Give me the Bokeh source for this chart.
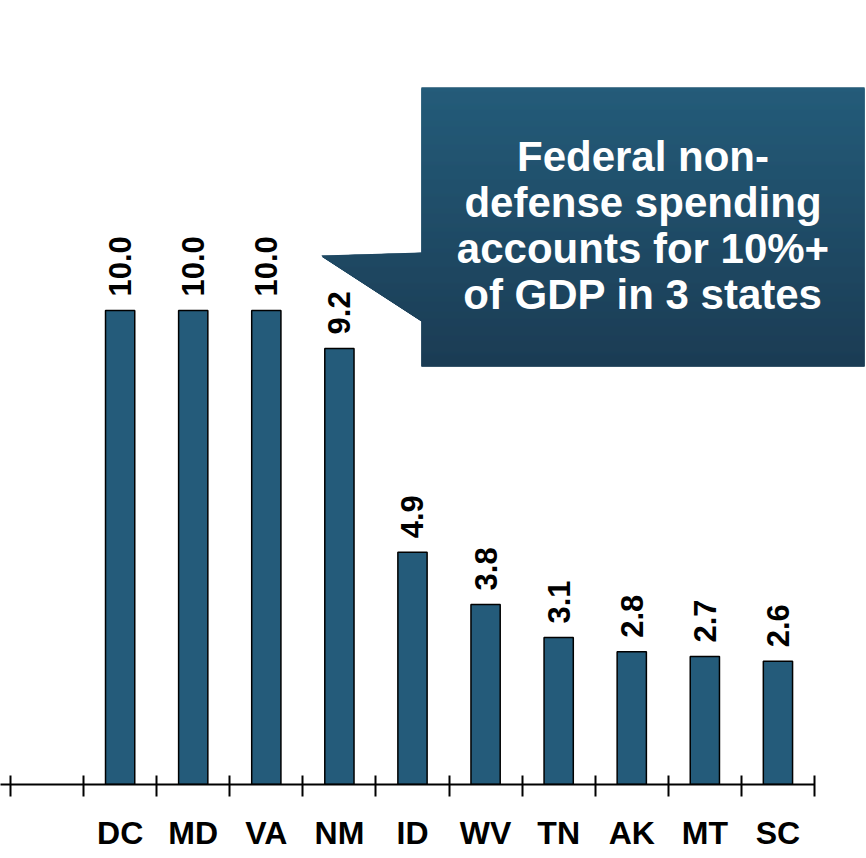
from math import pi
from bokeh.plotting import figure
from bokeh.models import Range1d, FixedTicker, ColumnDataSource, LabelSet
from bokeh.core.properties import value
from bokeh.embed import file_html
from bokeh.resources import INLINE

# ---------------- data ----------------
categories = ["DC", "MD", "VA", "NM", "ID", "WV", "TN", "AK", "MT", "SC"]
values = [10.0, 10.0, 10.0, 9.2, 4.9, 3.8, 3.1, 2.8, 2.7, 2.6]
value_labels = ["10.0", "10.0", "10.0", "9.2", "4.9", "3.8", "3.1", "2.8", "2.7", "2.6"]
callout_lines = ["Federal non-", "defense spending", "accounts for 10%+", "of GDP in 3 states"]

# ---------------- layout constants ----------------
PX_X = 73.09   # pixels per category slot
PX_Y = 47.4    # pixels per unit
W, H = 866, 858
FRAME_H = 784
FONT = value("Liberation Sans")
BAR_COLOR = "#245b7a"

n_slots = len(categories) + 1          # one empty leading slot
centers = [i + 1.5 for i in range(len(categories))]
boundaries = [float(i) for i in range(n_slots + 1)]

x0 = -10 / PX_X
p = figure(width=W, height=H,
           x_range=Range1d(x0, x0 + W / PX_X),
           y_range=Range1d(0, FRAME_H / PX_Y),
           output_backend="svg", toolbar_location=None,
           y_axis_location=None,
           min_border_left=0, min_border_right=0, min_border_top=0,
           min_border_bottom=H - FRAME_H)
p.outline_line_color = None
p.xgrid.visible = False
p.ygrid.visible = False
p.background_fill_color = "white"
p.border_fill_color = "white"

# bars
src = ColumnDataSource(dict(x=centers, top=values, lab=value_labels,
                            cat=categories))
p.vbar(x="x", top="top", width=0.4, bottom=0, source=src,
       fill_color=BAR_COLOR, line_color="black", line_width=1.5)

# value labels
labels = LabelSet(x="x", y="top", text="lab", source=src, angle=pi / 2,
                  text_align="left", text_baseline="middle",
                  x_offset=0, y_offset=14,
                  text_font=FONT, text_font_style="bold",
                  text_font_size="31px", text_color="black")
p.add_layout(labels)

# x axis
ax = p.xaxis[0]
ax.ticker = FixedTicker(ticks=centers, minor_ticks=boundaries)
ax.major_label_overrides = {c: lab for c, lab in zip(centers, categories)}
ax.bounds = (x0, float(n_slots))
ax.axis_line_color = "black"
ax.axis_line_width = 2
ax.major_tick_line_color = None
ax.major_tick_out = 0
ax.major_tick_in = 0
ax.minor_tick_line_color = "black"
ax.minor_tick_line_width = 2
ax.minor_tick_in = 9
ax.minor_tick_out = 12
ax.major_label_standoff = 18
ax.major_label_text_font = "Liberation Sans"
ax.major_label_text_font_style = "bold"
ax.major_label_text_font_size = "32px"
ax.major_label_text_color = "black"


# ---------------- callout (page pixel geometry -> data) ----------------
def dx(px):
    return (px - 10) / PX_X


def dy(py):
    return (784 - py) / PX_Y


BOX_L, BOX_R, BOX_T, BOX_B = 421, 864, 87, 366
TIP = (321, 255)
UP_Y, LOW_Y = 252, 320


def left_edge(py):
    if UP_Y <= py <= TIP[1]:
        return BOX_L - (py - UP_Y) / (TIP[1] - UP_Y) * (BOX_L - TIP[0])
    if TIP[1] < py <= LOW_Y:
        return TIP[0] + (py - TIP[1]) / (LOW_Y - TIP[1]) * (BOX_L - TIP[0])
    return BOX_L


top_rgb = (36, 92, 122)
bot_rgb = (27, 60, 84)

# solid base shape under the gradient strips (hides seams)
shape_x = [BOX_L, BOX_R, BOX_R, BOX_L, BOX_L, TIP[0], BOX_L]
shape_y = [BOX_T, BOX_T, BOX_B, BOX_B, LOW_Y, TIP[1], UP_Y]
p.patch([dx(v) for v in shape_x], [dy(v) for v in shape_y],
        fill_color="#1f4a66", line_color=None)

xs, ys, cols = [], [], []
edges = sorted(set(list(range(BOX_T, BOX_B + 1)) + [UP_Y, TIP[1], LOW_Y]))
for a, b in zip(edges[:-1], edges[1:]):
    t = ((a + b) / 2 - BOX_T) / (BOX_B - BOX_T)
    c = tuple(int(round(top_rgb[k] + (bot_rgb[k] - top_rgb[k]) * t)) for k in range(3))
    bb = min(b + 1.5, BOX_B)
    xs.append([dx(left_edge(a)), dx(BOX_R), dx(BOX_R), dx(left_edge(b))])
    ys.append([dy(a), dy(a), dy(bb), dy(bb)])
    cols.append("#%02x%02x%02x" % c)
p.patches(xs, ys, fill_color=cols, line_color=None)

cx = dx((BOX_L + BOX_R) / 2)
baselines = [156, 202, 248, 294]
p.text(x=[cx] * len(callout_lines), y=[dy(b) for b in baselines],
       text=callout_lines, text_align="center", text_baseline="alphabetic",
       text_font=FONT, text_font_style="bold", text_font_size="42px",
       text_color="white")

open("out.html", "w").write(file_html(p, INLINE))
